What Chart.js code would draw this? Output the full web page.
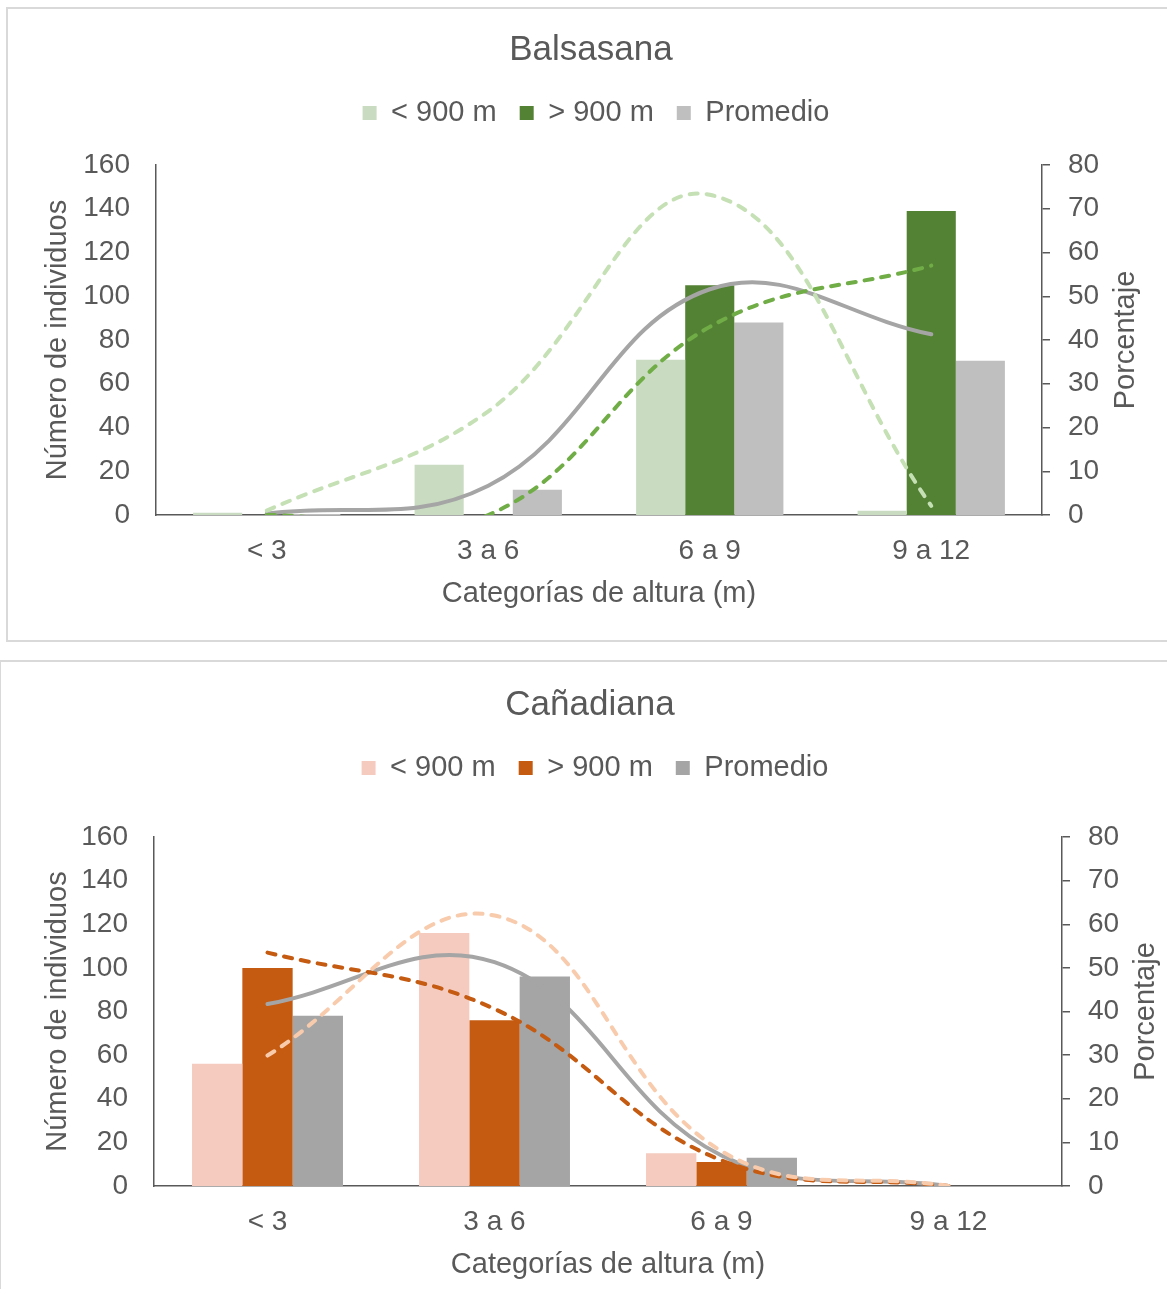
<!DOCTYPE html>
<html lang="es">
<head>
<meta charset="utf-8">
<title>Balsasana / Cañadiana</title>
<script src="https://cdn.jsdelivr.net/npm/chart.js@4/dist/chart.umd.min.js"></script>
<style>
  html, body { margin: 0; padding: 0; background: #ffffff; }
  body { width: 1167px; height: 1289px; position: relative; overflow: hidden; }
  .panel { position: absolute; border: 2px solid #d9d9d9; box-sizing: border-box; background: #fff; }
  #panelTop { left: 6px; top: 7px; width: 1170px; height: 635px; }
  #panelBottom { left: -1px; top: 660px; width: 1180px; height: 700px; }
  canvas { position: absolute; }
  #chartTop { left: 8px; top: 9px; }
  #chartBottom { left: 1px; top: 662px; }
</style>
</head>
<body>
<div class="panel" id="panelTop"></div>
<div class="panel" id="panelBottom"></div>
<canvas id="chartTop" width="1160" height="630"></canvas>
<canvas id="chartBottom" width="1166" height="627"></canvas>

<script>
// categorías comunes
const categorias = ['< 3', '3 a 6', '6 a 9', '9 a 12'];
const leyendas = ['< 900 m', '> 900 m', 'Promedio'];

// Balsasana: número de individuos
const balMenos900 = [1, 23, 71, 2];
const balMas900 = [0, 0, 105, 139];
const balPromedio = [0.5, 11.5, 88, 70.5];
// Balsasana: porcentaje
const balPctMenos900 = [1.0, 23.7, 73.2, 2.1];
const balPctMas900 = [0, 0, 43.0, 57.0];
const balPctPromedio = [0.3, 6.7, 51.6, 41.3];

// Cañadiana: número de individuos
const canMenos900 = [56, 116, 15, 0];
const canMas900 = [100, 76, 11, 0];
const canPromedio = [78, 96, 13, 0];
// Cañadiana: porcentaje
const canPctMenos900 = [29.9, 62.0, 8.0, 0];
const canPctMas900 = [53.5, 40.6, 5.9, 0];
const canPctPromedio = [41.7, 51.3, 7.0, 0];

const FONT = '"Liberation Sans", Arial, sans-serif';
const TEXT = '#595959';
const AXIS = '#595959';

// ajustes de cabecera: aire bajo la leyenda y desplazamiento horizontal
const headerTweak = {
  id: 'headerTweak',
  beforeInit(chart, args, opts) {
    const legend = chart.legend;
    const fit = legend.fit;
    legend.fit = function () {
      fit.bind(legend)();
      this.height += opts.extra || 0;
    };
    const shift = (box, dx) => {
      const draw = box.draw;
      box.draw = function (...a) {
        chart.ctx.save();
        chart.ctx.translate(dx, 0);
        draw.apply(box, a);
        chart.ctx.restore();
      };
    };
    shift(legend, opts.legendShift || 0);
    shift(chart.titleBlock, opts.titleShift || 0);
  },
};

// título del eje derecho, leído de abajo hacia arriba
const rightTitle = {
  id: 'rightTitle',
  afterDraw(chart, args, opts) {
    const { ctx, chartArea } = chart;
    const scale = chart.scales.y1;
    ctx.save();
    ctx.fillStyle = TEXT;
    ctx.font = '29px ' + FONT;
    ctx.textAlign = 'center';
    ctx.textBaseline = 'middle';
    ctx.translate(scale.right - opts.offset, (chartArea.top + chartArea.bottom) / 2);
    ctx.rotate(-Math.PI / 2);
    ctx.fillText(opts.text, 0, 0);
    ctx.restore();
  },
};

function barSet(label, data, color) {
  return {
    type: 'bar',
    label,
    data,
    backgroundColor: color,
    borderWidth: 0,
    yAxisID: 'y',
    order: 2,
    categoryPercentage: 0.665,
    barPercentage: 1,
  };
}

function lineSet(label, data, color, dashed) {
  return {
    type: 'line',
    label,
    data,
    borderColor: color,
    backgroundColor: color,
    borderWidth: 4,
    borderDash: dashed ? [8, 9] : [],
    borderCapStyle: 'round',
    borderJoinStyle: 'round',
    capBezierPoints: false,
    pointRadius: 0,
    pointHoverRadius: 0,
    tension: 0.4,
    fill: false,
    yAxisID: 'y1',
    order: 1,
  };
}

/**
 * Dibuja un gráfico de barras con curvas de porcentaje.
 */
function showAlturaChart(canvasId, titulo, series, colores, lay) {
  const [nMenos, nMas, nProm, pMenos, pMas, pProm] = series;

  const scalesConfig = {
    x: {
      type: 'category',
      offset: true,
      grid: { display: false, drawTicks: false },
      border: { display: true, color: AXIS, width: 1.5 },
      ticks: { color: TEXT, font: { family: FONT, size: 28 }, padding: 19 },
      title: {
        display: true,
        text: 'Categorías de altura (m)',
        color: TEXT,
        font: { family: FONT, size: 29 },
        padding: { top: 0, bottom: lay.xTitlePad },
      },
      afterFit: scale => { scale.height = lay.xHeight; },
    },
    y: {
      position: 'left',
      min: 0,
      max: 160,
      ticks: { stepSize: 20, color: TEXT, font: { family: FONT, size: 28 }, padding: 26 },
      grid: { display: false, drawTicks: false },
      border: { display: true, color: AXIS, width: 1.5 },
      title: {
        display: true,
        text: 'Número de individuos',
        color: TEXT,
        font: { family: FONT, size: 29 },
        padding: { top: lay.yTitlePad, bottom: 0 },
      },
      afterFit: scale => { scale.width = lay.yWidth; },
    },
    y1: {
      position: 'right',
      min: 0,
      max: 80,
      ticks: { stepSize: 10, color: TEXT, font: { family: FONT, size: 28 }, padding: 18 },
      grid: { display: true, drawOnChartArea: false, drawTicks: true, tickLength: 8, color: AXIS, lineWidth: 1.5 },
      border: { display: true, color: AXIS, width: 1.5 },
      title: { display: false },
      afterFit: scale => { scale.width = lay.y1Width; },
    },
  };

  const globalConfig = {
    data: {
      labels: categorias,
      datasets: [
        barSet(leyendas[0], nMenos, colores.barMenos),
        barSet(leyendas[1], nMas, colores.barMas),
        barSet(leyendas[2], nProm, colores.barProm),
        lineSet('% ' + leyendas[0], pMenos, colores.lineMenos, true),
        lineSet('% ' + leyendas[1], pMas, colores.lineMas, true),
        lineSet('% ' + leyendas[2], pProm, colores.lineProm, false),
      ],
    },
    options: {
      responsive: false,
      animation: false,
      layout: { padding: 0 },
      scales: scalesConfig,
      plugins: {
        title: {
          display: true,
          text: titulo,
          color: TEXT,
          font: { family: FONT, size: 35, weight: 'normal' },
          padding: { top: lay.titleTop, bottom: 4.5 },
        },
        legend: {
          display: true,
          labels: {
            color: TEXT,
            font: { family: FONT, size: 29 },
            boxWidth: 14,
            boxHeight: 14,
            padding: 23,
            filter: item => leyendas.includes(item.text),
          },
        },
        headerTweak: { extra: lay.legendExtra, legendShift: lay.legendShift, titleShift: lay.titleShift },
        rightTitle: { text: 'Porcentaje', offset: lay.y1TitleOffset },
        tooltip: { enabled: false },
      },
    },
    plugins: [headerTweak, rightTitle],
  };

  return new Chart(document.getElementById(canvasId), globalConfig);
}

showAlturaChart(
  'chartTop',
  'Balsasana',
  [balMenos900, balMas900, balPromedio, balPctMenos900, balPctMas900, balPctPromedio],
  {
    barMenos: '#c9dbc1',
    barMas: '#548235',
    barProm: '#bfbfbf',
    lineMenos: '#c5e0b4',
    lineMas: '#70ad47',
    lineProm: '#a5a5a5',
  },
  {
    titleTop: 20, titleShift: 3, legendShift: 8, legendExtra: 27.5,
    xHeight: 124, xTitlePad: 27.6, yWidth: 148, yTitlePad: 32.6, y1Width: 126, y1TitleOffset: 42,
  }
);

showAlturaChart(
  'chartBottom',
  'Cañadiana',
  [canMenos900, canMas900, canPromedio, canPctMenos900, canPctMas900, canPctPromedio],
  {
    barMenos: '#f5cbbf',
    barMas: '#c55a11',
    barProm: '#a5a5a5',
    lineMenos: '#f8cbad',
    lineMas: '#c55a11',
    lineProm: '#a5a5a5',
  },
  {
    titleTop: 22, titleShift: 6, legendShift: 11, legendExtra: 44.5,
    xHeight: 103, xTitlePad: 6.6, yWidth: 153, yTitlePad: 39.6, y1Width: 105, y1TitleOffset: 21,
  }
);
</script>
</body>
</html>
